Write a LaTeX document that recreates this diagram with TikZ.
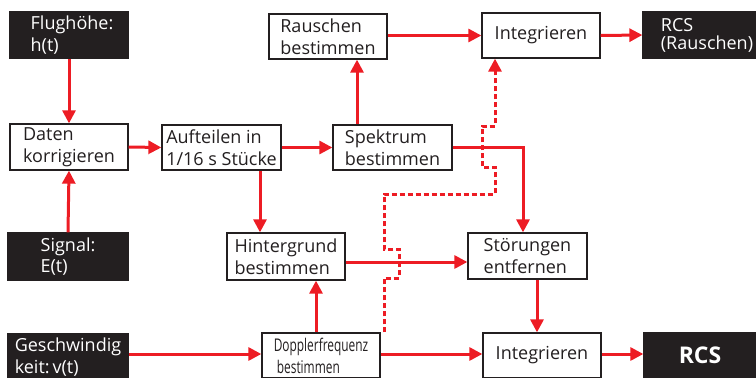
\documentclass[tikz,border=0pt]{standalone}
\usepackage{fontspec}
\setmainfont{Open Sans}
\usetikzlibrary{arrows.meta,calc}
\definecolor{arr}{RGB}{237,28,36}
\definecolor{blk}{RGB}{35,31,32}
\begin{document}
\begin{tikzpicture}[x=1pt,y=-1pt,
 wbox/.style={draw=blk, line width=1.3pt, fill=white, minimum width=118pt, minimum height=45pt, align=left, inner sep=0pt, font=\fontsize{18}{21.5}\selectfont, text=blk},
 bbox/.style={wbox, fill=blk, text=white},
 conn/.style={draw=arr, line width=3pt, -{Triangle[length=13pt,width=13pt]}},
 dconn/.style={conn, dash pattern=on 5pt off 3pt},
]
\useasboundingbox (0,0) rectangle (756,378);
% black input/output boxes
\node[bbox, minimum height=46pt] (fl) at (69,35) {\hspace*{6pt}Flughöhe:\\\hspace*{6pt}h(t)};
\node[bbox, minimum width=120pt, minimum height=47pt] (sig) at (68,256.5) {Signal:\\E(t)};
\node[bbox, minimum width=120pt, minimum height=47pt] (gsw) at (68,357) {Geschwindig\\keit:\,v(t)};
\node[bbox, minimum width=128pt, minimum height=46pt, font=\fontsize{18}{18}\selectfont] (rcs1) at (707,35) {RCS\\(Rauschen)};
\node[bbox, minimum width=112pt, font=\fontsize{23}{24}\bfseries] (rcs2) at (700,355.5) {RCS};
% white process boxes
\node[wbox, minimum height=46pt] (dk) at (69,147) {Daten\\korrigieren};
\node[wbox, minimum width=119pt] (auf) at (221.5,147.5) {Aufteilen in\\1/16 s Stücke};
\node[wbox, minimum width=119pt] (spk) at (392.5,147.5) {Spektrum\\bestimmen};
\node[wbox] (rau) at (328,36.5) {Rauschen\\bestimmen};
\node[wbox] (int1) at (541,35.5) {Integrieren};
\node[wbox, minimum height=47pt] (hin) at (286,256.5) {Hintergrund\\bestimmen};
\node[wbox, minimum width=119pt, minimum height=46pt] (sto) at (527.5,256) {Störungen\\entfernen};
\node[wbox, font=\fontsize{17.5}{22}\selectfont] (dop) at (321,355.5) {\scalebox{0.68}[1]{Dopplerfrequenz}\\\scalebox{0.68}[1]{\ bestimmen}};
\node[wbox] (int2) at (542,355.5) {Integrieren};
% helper coordinates
\coordinate (x260) at (260,0);
\coordinate (x316) at (316,0);
\coordinate (x357) at (357,0);
\coordinate (x523) at (523,0);
\coordinate (x537) at (537,0);
\coordinate (x384) at (384,0);
\coordinate (x495) at (495,0);
\coordinate (y262) at (0,262);
\coordinate (y354) at (0,354);
% connectors
\draw[conn] (fl.south) -- (dk.north);
\draw[conn] (sig.north) -- (dk.south);
\draw[conn] (dk.east) -- (auf.west);
\draw[conn] (auf.east) -- (spk.west);
\draw[conn] (auf.south -| x260) -- (hin.north -| x260);
\draw[conn] (spk.north -| x357) -- (rau.south -| x357);
\draw[conn] (rau.east |- int1.west) -- (int1.west);
\draw[conn] (int1.east) -- (rcs1.west);
\draw[conn] (spk.east) -| (sto.north -| x523);
\draw[conn] (hin.east |- y262) -- (sto.west |- y262);
\draw[conn] (sto.south -| x537) -- (int2.north -| x537);
\draw[conn] (gsw.east |- y354) -- (dop.west |- y354);
\draw[conn] (dop.north -| x316) -- (hin.south -| x316);
\draw[conn] (dop.east |- y354) -- (int2.west |- y354);
\draw[conn] (int2.east |- y354) -- (rcs2.west |- y354);
\draw[dconn] (dop.north -| x384) -- (384,278) -- (399,278) -- (399,249) -- (384,249)
  -- (384,194) -- (495,194) -- (495,167) -- (482,167) -- (482,126) -- (495,126)
  -- (int1.south -| x495);
\end{tikzpicture}
\end{document}
